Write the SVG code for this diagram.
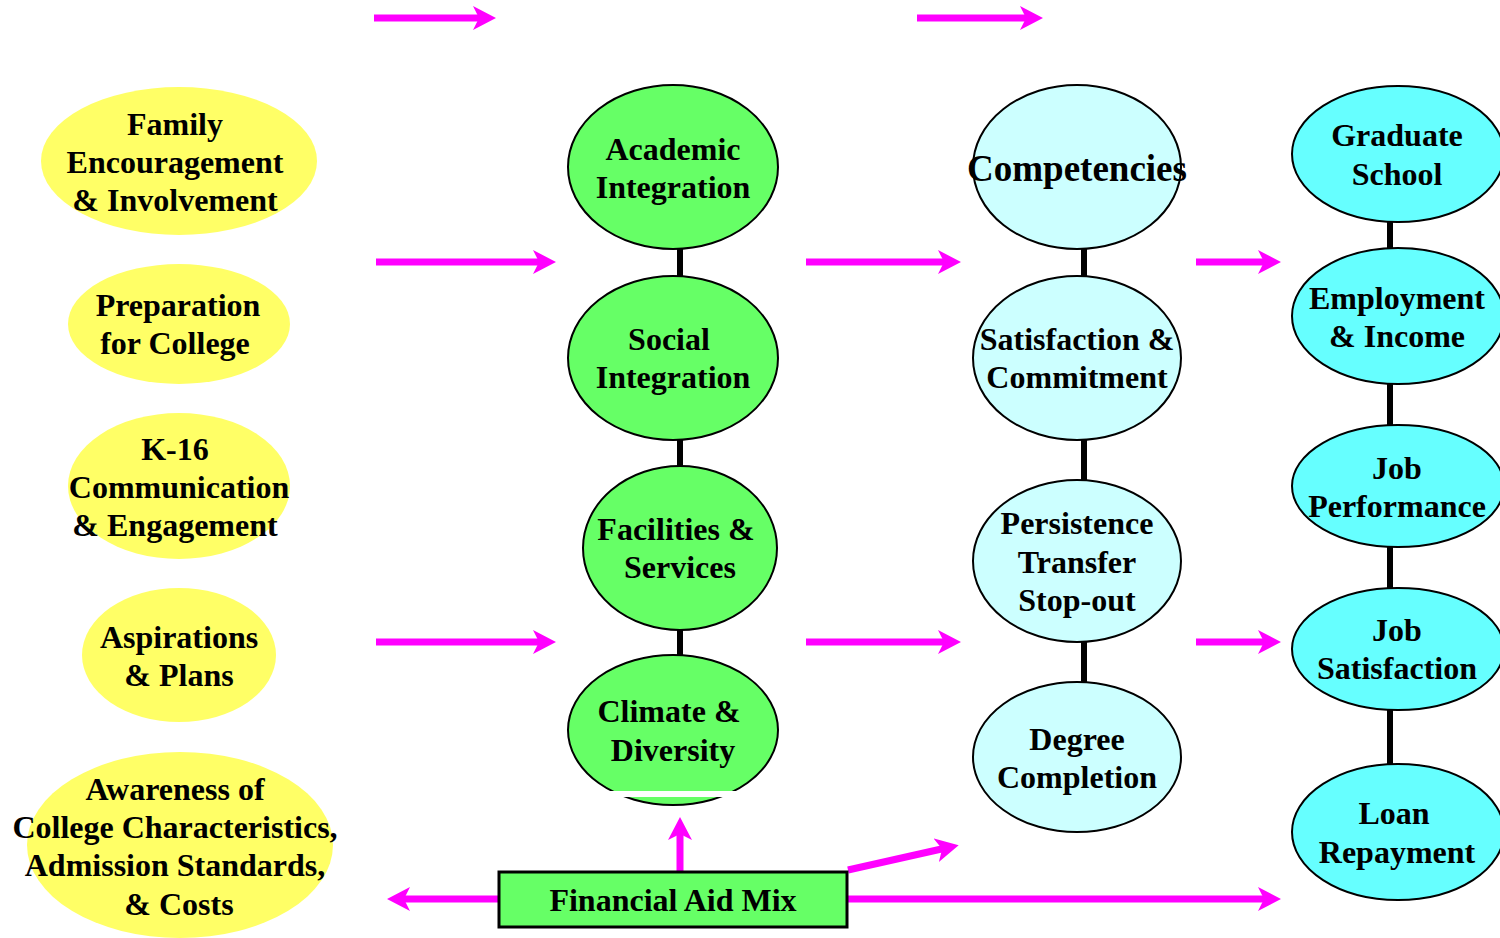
<svg xmlns="http://www.w3.org/2000/svg" width="1500" height="938" viewBox="0 0 1500 938">
  <style>
    text { font-family: "Liberation Serif", "DejaVu Serif", serif; font-weight: bold; font-size: 32px; fill: #000; text-anchor: middle; }
    .big { font-size: 37px; }
    .pre { fill: #ffff66; stroke: none; }
    .inst { fill: #66ff66; stroke: #000; stroke-width: 2; }
    .mid { fill: #ccffff; stroke: #000; stroke-width: 2; }
    .out { fill: #66ffff; stroke: #000; stroke-width: 2; }
    .link { stroke: #000; stroke-width: 6; fill: none; }
    .arrow { stroke: #ff00ff; stroke-width: 7; fill: none; marker-end: url(#head); }
  </style>
  <defs>
    <marker id="head" markerUnits="userSpaceOnUse" markerWidth="24" markerHeight="24" refX="10" refY="12" orient="auto">
      <path d="M0,0 L23,12 L0,24 L6,12 Z" fill="#ff00ff"/>
    </marker>
  </defs>
  <rect width="1500" height="938" fill="#fff"/>

  <!-- vertical links inside each column -->
  <g id="connectors">
    <line class="link" x1="680" y1="248" x2="680" y2="278"/>
    <line class="link" x1="680" y1="438" x2="680" y2="468"/>
    <line class="link" x1="680" y1="628" x2="680" y2="658"/>
    <line class="link" x1="1084" y1="248" x2="1084" y2="278"/>
    <line class="link" x1="1084" y1="438" x2="1084" y2="482"/>
    <line class="link" x1="1084" y1="641" x2="1084" y2="685"/>
    <line class="link" x1="1390" y1="220" x2="1390" y2="250"/>
    <line class="link" x1="1390" y1="383" x2="1390" y2="427"/>
    <line class="link" x1="1390" y1="546" x2="1390" y2="590"/>
    <line class="link" x1="1390" y1="708" x2="1390" y2="766"/>

    <!-- flow arrows -->
    <line class="arrow" x1="374" y1="18" x2="483" y2="18"/>
    <line class="arrow" x1="917" y1="18" x2="1030" y2="18"/>
    <line class="arrow" x1="376" y1="262" x2="543" y2="262"/>
    <line class="arrow" x1="806" y1="262" x2="948" y2="262"/>
    <line class="arrow" x1="1196" y1="262" x2="1268" y2="262"/>
    <line class="arrow" x1="376" y1="642" x2="543" y2="642"/>
    <line class="arrow" x1="806" y1="642" x2="948" y2="642"/>
    <line class="arrow" x1="1196" y1="642" x2="1268" y2="642"/>
    <line class="arrow" x1="498" y1="899" x2="400" y2="899"/>
    <line class="arrow" x1="680" y1="872" x2="680" y2="830"/>
    <line class="arrow" x1="848" y1="870" x2="946" y2="848"/>
    <line class="arrow" x1="848" y1="899" x2="1268" y2="899"/>
  </g>

  <!-- pre-college factors -->
  <g id="family">
    <ellipse class="pre" cx="179" cy="161" rx="138" ry="74"/>
    <text x="175" y="135">Family</text>
    <text x="175" y="173">Encouragement</text>
    <text x="175" y="211">&amp; Involvement</text>
  </g>
  <g id="preparation">
    <ellipse class="pre" cx="179" cy="324" rx="111" ry="60"/>
    <text x="178" y="316">Preparation</text>
    <text x="175" y="354">for College</text>
  </g>
  <g id="k16">
    <ellipse class="pre" cx="179" cy="486" rx="111" ry="73"/>
    <text x="175" y="460">K-16</text>
    <text x="179" y="498">Communication</text>
    <text x="175" y="536">&amp; Engagement</text>
  </g>
  <g id="aspirations">
    <ellipse class="pre" cx="179" cy="655" rx="97" ry="67"/>
    <text x="179" y="648">Aspirations</text>
    <text x="179" y="686">&amp; Plans</text>
  </g>
  <g id="awareness">
    <ellipse class="pre" cx="180" cy="845" rx="153" ry="93"/>
    <text x="175" y="800">Awareness of</text>
    <text x="175" y="838">College Characteristics,</text>
    <text x="175" y="876">Admission Standards,</text>
    <text x="179" y="915">&amp; Costs</text>
  </g>

  <!-- college experiences -->
  <g id="academic">
    <ellipse class="inst" cx="673" cy="167" rx="105" ry="82"/>
    <text x="673" y="160">Academic</text>
    <text x="673" y="198">Integration</text>
  </g>
  <g id="social">
    <ellipse class="inst" cx="673" cy="358" rx="105" ry="82"/>
    <text x="669" y="350">Social</text>
    <text x="673" y="388">Integration</text>
  </g>
  <g id="facilities">
    <ellipse class="inst" cx="680" cy="548" rx="97" ry="82"/>
    <text x="676" y="540">Facilities &amp;</text>
    <text x="680" y="578">Services</text>
  </g>
  <g id="climate">
    <ellipse class="inst" cx="673" cy="730" rx="105" ry="75"/>
    <rect x="560" y="791" width="230" height="6" fill="#fff"/>
    <text x="669" y="722">Climate &amp;</text>
    <text x="673" y="761">Diversity</text>
  </g>

  <!-- college outcomes -->
  <g id="competencies">
    <ellipse class="mid" cx="1077" cy="167" rx="104" ry="82"/>
    <text class="big" x="1077" y="181">Competencies</text>
  </g>
  <g id="satisfaction">
    <ellipse class="mid" cx="1077" cy="358" rx="104" ry="82"/>
    <text x="1077" y="350">Satisfaction &amp;</text>
    <text x="1077" y="388">Commitment</text>
  </g>
  <g id="persistence">
    <ellipse class="mid" cx="1077" cy="561" rx="104" ry="81"/>
    <text x="1077" y="534">Persistence</text>
    <text x="1077" y="573">Transfer</text>
    <text x="1077" y="611">Stop-out</text>
  </g>
  <g id="degree">
    <ellipse class="mid" cx="1077" cy="757" rx="104" ry="75"/>
    <text x="1077" y="750">Degree</text>
    <text x="1077" y="788">Completion</text>
  </g>

  <!-- post-college outcomes -->
  <g id="graduate">
    <ellipse class="out" cx="1398" cy="154" rx="106" ry="68"/>
    <text x="1397" y="146">Graduate</text>
    <text x="1397" y="185">School</text>
  </g>
  <g id="employment">
    <ellipse class="out" cx="1398" cy="316" rx="106" ry="68"/>
    <text x="1397" y="309">Employment</text>
    <text x="1397" y="347">&amp; Income</text>
  </g>
  <g id="performance">
    <ellipse class="out" cx="1398" cy="486" rx="106" ry="61"/>
    <text x="1397" y="479">Job</text>
    <text x="1397" y="517">Performance</text>
  </g>
  <g id="jobsat">
    <ellipse class="out" cx="1398" cy="649" rx="106" ry="61"/>
    <text x="1397" y="641">Job</text>
    <text x="1397" y="679">Satisfaction</text>
  </g>
  <g id="loan">
    <ellipse class="out" cx="1398" cy="832" rx="106" ry="68"/>
    <text x="1394" y="824">Loan</text>
    <text x="1397" y="863">Repayment</text>
  </g>

  <!-- financial aid -->
  <g id="financial-aid">
    <rect x="499" y="872" width="348" height="55" fill="#66ff66" stroke="#000" stroke-width="3"/>
    <text x="673" y="911">Financial Aid Mix</text>
  </g>
</svg>
